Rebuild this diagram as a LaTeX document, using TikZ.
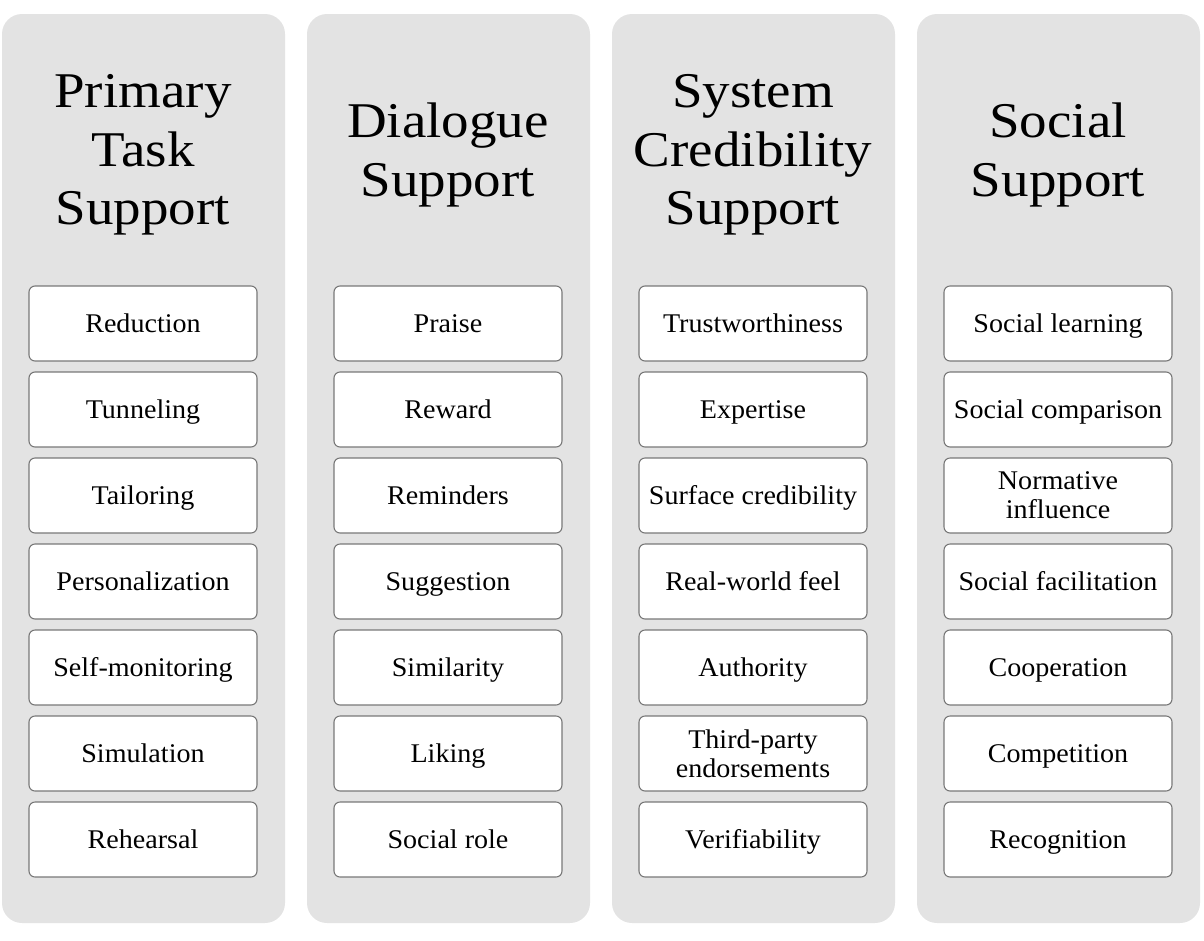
\documentclass[tikz,border=0pt]{standalone}
\usepackage{fontspec}
\setmainfont{Liberation Serif}
\newfontfamily\titlefont[FakeStretch=1.1]{Liberation Serif}
\newfontfamily\cellfont[FakeStretch=1.04]{Liberation Serif}
\definecolor{colbg}{RGB}{227,227,227}
\definecolor{boxline}{RGB}{120,120,120}
\tikzset{
  colpanel/.style={fill=colbg, draw=none, rounded corners=20pt, minimum width=283pt, minimum height=909pt, inner sep=0pt},
  coltitle/.style={align=center, font=\titlefont\fontsize{50}{58.5}\selectfont, inner sep=0pt},
  cellbase/.style={fill=white, draw=boxline, line width=1.1pt, rounded corners=6pt, minimum width=228pt, minimum height=75pt, inner sep=0pt, font=\cellfont\fontsize{27}{29}\selectfont},
  cell/.style={cellbase, text height=18.4pt, text depth=0pt},
  cellii/.style={cellbase, align=center}
}
\begin{document}
\begin{tikzpicture}[x=1pt,y=-1pt]
\useasboundingbox (0,0) rectangle (1204,940);
% columns
\node[colpanel] (c1) at (143.5,468.5) {};
\node[colpanel] (c2) at (448.5,468.5) {};
\node[colpanel] (c3) at (753.5,468.5) {};
\node[colpanel] (c4) at (1058.5,468.5) {};
% titles
\node[coltitle] (t1) at (143,155) {Primary\\Task\\Support};
\node[coltitle] (t2) at (448,155) {Dialogue\\Support};
\node[coltitle] (t3) at (753,155) {System\\Credibility\\Support};
\node[coltitle] (t4) at (1058,155) {Social\\Support};
% column 1
\node[cell] (a1) at (143,323.5) {Reduction};
\node[cell] (a2) at (143,409.5) {Tunneling};
\node[cell] (a3) at (143,495.5) {Tailoring};
\node[cell] (a4) at (143,581.5) {Personalization};
\node[cell] (a5) at (143,667.5) {Self-monitoring};
\node[cell] (a6) at (143,753.5) {Simulation};
\node[cell] (a7) at (143,839.5) {Rehearsal};
% column 2
\node[cell] (b1) at (448,323.5) {Praise};
\node[cell] (b2) at (448,409.5) {Reward};
\node[cell] (b3) at (448,495.5) {Reminders};
\node[cell] (b4) at (448,581.5) {Suggestion};
\node[cell] (b5) at (448,667.5) {Similarity};
\node[cell] (b6) at (448,753.5) {Liking};
\node[cell] (b7) at (448,839.5) {Social role};
% column 3
\node[cell] (d1) at (753,323.5) {Trustworthiness};
\node[cell] (d2) at (753,409.5) {Expertise};
\node[cell] (d3) at (753,495.5) {Surface credibility};
\node[cell] (d4) at (753,581.5) {Real-world feel};
\node[cell] (d5) at (753,667.5) {Authority};
\node[cellii] (d6) at (753,753.5) {Third-party\\endorsements};
\node[cell] (d7) at (753,839.5) {Verifiability};
% column 4
\node[cell] (e1) at (1058,323.5) {Social learning};
\node[cell] (e2) at (1058,409.5) {Social comparison};
\node[cellii] (e3) at (1058,495.5) {Normative\\influence};
\node[cell] (e4) at (1058,581.5) {Social facilitation};
\node[cell] (e5) at (1058,667.5) {Cooperation};
\node[cell] (e6) at (1058,753.5) {Competition};
\node[cell] (e7) at (1058,839.5) {Recognition};
\end{tikzpicture}
\end{document}
